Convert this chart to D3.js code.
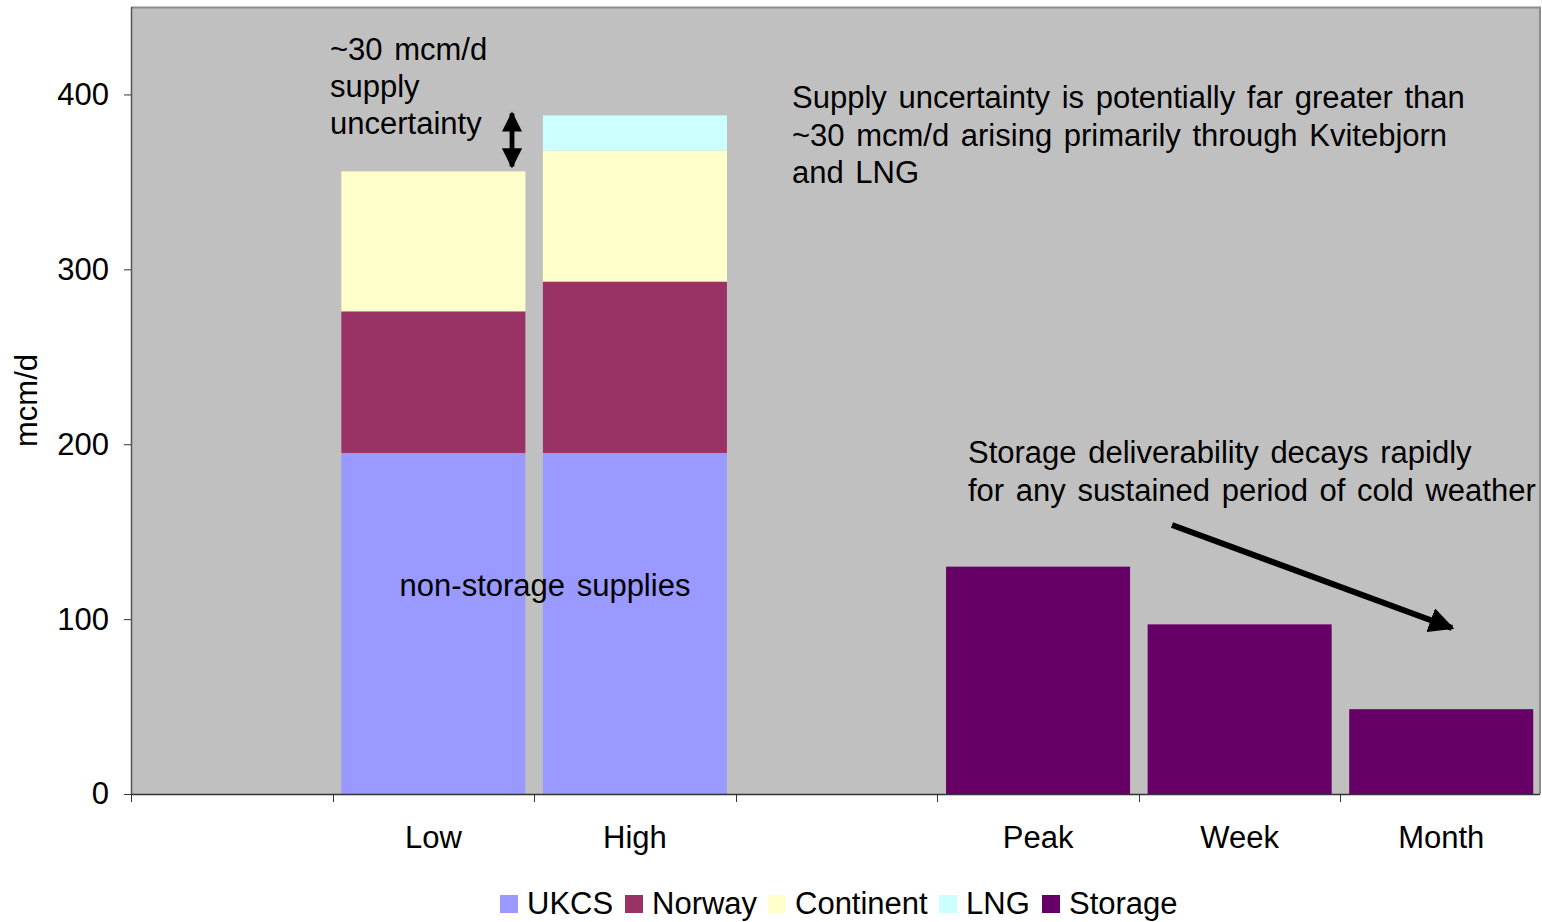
<!DOCTYPE html>
<html>
<head>
<meta charset="utf-8">
<script src="https://cdn.jsdelivr.net/npm/d3@7"></script>
<style>
  html, body { margin: 0; padding: 0; background: #ffffff; }
  svg { display: block; font-family: "Liberation Sans", Arial, sans-serif; }
</style>
</head>
<body>
<svg id="chart" width="1542" height="922"></svg>
<script>
// Category slots along the x axis (blank slots act as spacers)
const categories = ["", "Low", "High", "", "Peak", "Week", "Month"];

// Series values per slot (mcm/d)
const ukcs      = [0, 195, 195, 0, 0, 0, 0];
const norway    = [0, 81, 98, 0, 0, 0, 0];
const continent = [0, 80, 75, 0, 0, 0, 0];
const lng       = [0, 0, 20, 0, 0, 0, 0];
const storage   = [0, 0, 0, 0, 130, 97, 48.5];

const seriesNames = ["UKCS", "Norway", "Continent", "LNG", "Storage"];
const seriesValues = [ukcs, norway, continent, lng, storage];
const seriesColors = ["#9999FF", "#993366", "#FFFFCC", "#CCFFFF", "#660066"];

const yTicks = [0, 100, 200, 300, 400];

const svg = d3.select("#chart");
const plot = { left: 131, right: 1540, top: 7, bottom: 794 };
const FS = 31;       // text size used throughout
const WS = 3;        // extra word spacing for annotations

const x = d3.scaleBand()
  .domain(d3.range(categories.length))
  .range([plot.left, 1542])
  .paddingInner(0.087)
  .paddingOuter(0.0435);

const y = d3.scaleLinear().domain([0, 450]).range([plot.bottom, plot.top]);

// plot background
svg.append("rect")
  .attr("x", plot.left).attr("y", plot.top)
  .attr("width", plot.right - plot.left).attr("height", plot.bottom - plot.top)
  .attr("fill", "#C0C0C0");

// top / right frame
svg.append("path")
  .attr("d", `M${plot.left},${plot.top + 0.5}H${plot.right}V${plot.bottom}`)
  .attr("fill", "none").attr("stroke", "#8c8c8c").attr("stroke-width", 2);

// stacked bars
const rows = categories.map((c, i) => {
  const r = { i };
  seriesNames.forEach((n, k) => r[n] = seriesValues[k][i]);
  return r;
});
const stacked = d3.stack().keys(seriesNames)(rows);

svg.append("g").selectAll("g")
  .data(stacked)
  .join("g")
  .attr("fill", (d, k) => seriesColors[k])
  .selectAll("rect")
  .data(d => d.filter(p => p[1] - p[0] > 0))
  .join("rect")
  .attr("x", d => x(d.data.i))
  .attr("width", x.bandwidth())
  .attr("y", d => y(d[1]))
  .attr("height", d => y(d[0]) - y(d[1]));

// y axis
const yAxis = svg.append("g")
  .attr("transform", `translate(${plot.left},0)`)
  .call(d3.axisLeft(y).tickValues(yTicks).tickSize(7).tickPadding(15));
yAxis.select(".domain").attr("stroke", "#555").attr("stroke-width", 1.5)
  .attr("d", `M0.5,${plot.top}V${plot.bottom}`);
yAxis.selectAll(".tick line").attr("stroke", "#333");
yAxis.selectAll(".tick text")
  .attr("font-size", FS).attr("fill", "#000")
  .attr("font-family", "Liberation Sans, Arial, sans-serif");

// x axis: line + ticks at category boundaries
const xg = svg.append("g");
xg.append("line")
  .attr("x1", plot.left).attr("x2", plot.right)
  .attr("y1", plot.bottom + 0.5).attr("y2", plot.bottom + 0.5)
  .attr("stroke", "#333").attr("stroke-width", 1.5);
xg.selectAll("line.tk")
  .data(d3.range(categories.length + 1))
  .join("line").attr("class", "tk")
  .attr("x1", i => Math.round(plot.left + i * x.step()) + 0.5)
  .attr("x2", i => Math.round(plot.left + i * x.step()) + 0.5)
  .attr("y1", plot.bottom).attr("y2", plot.bottom + 8)
  .attr("stroke", "#333");
xg.selectAll("text")
  .data(categories.map((c, i) => ({ c, i })).filter(d => d.c))
  .join("text")
  .attr("x", d => x(d.i) + x.bandwidth() / 2)
  .attr("y", 848)
  .attr("text-anchor", "middle")
  .attr("font-size", FS)
  .text(d => d.c);

// y axis title
svg.append("text")
  .attr("transform", `translate(37,${(plot.top + plot.bottom) / 2}) rotate(-90)`)
  .attr("text-anchor", "middle")
  .attr("font-size", FS)
  .text("mcm/d");

// annotations
function lines(xp, y0, arr, lh) {
  const t = svg.append("text").attr("x", xp).attr("y", y0)
    .attr("font-size", FS).attr("word-spacing", WS);
  arr.forEach((s, k) => t.append("tspan").attr("x", xp).attr("y", y0 + k * lh).text(s));
}
lines(330, 60, ["~30 mcm/d", "supply", "uncertainty"], 37);
lines(792, 108, ["Supply uncertainty is potentially far greater than",
                 "~30 mcm/d arising primarily through Kvitebjorn",
                 "and LNG"], 37.5);
lines(968, 463, ["Storage deliverability decays rapidly",
                 "for any sustained period of cold weather"], 37.5);
svg.append("text").attr("x", 545).attr("y", 596)
  .attr("text-anchor", "middle").attr("font-size", FS).attr("word-spacing", WS)
  .text("non-storage supplies");

// arrowheads
const defs = svg.append("defs");
defs.append("marker")
  .attr("id", "head").attr("viewBox", "0 0 10 10")
  .attr("refX", 9).attr("refY", 5)
  .attr("markerWidth", 4.2).attr("markerHeight", 4.2)
  .attr("markerUnits", "strokeWidth")
  .attr("orient", "auto-start-reverse")
  .append("path").attr("d", "M0,0L10,5L0,10z").attr("fill", "#000");

// double-headed arrow: gap between Low total and High total
const lowTotal = ukcs[1] + norway[1] + continent[1] + lng[1];
const highTotal = ukcs[2] + norway[2] + continent[2] + lng[2];
svg.append("line")
  .attr("x1", 512).attr("x2", 512)
  .attr("y1", y(highTotal) - 2).attr("y2", y(lowTotal) - 5)
  .attr("stroke", "#000").attr("stroke-width", 4.8)
  .attr("marker-start", "url(#head)").attr("marker-end", "url(#head)");

// decay arrow
svg.append("line")
  .attr("x1", 1172).attr("y1", 525)
  .attr("x2", 1452).attr("y2", 628)
  .attr("stroke", "#000").attr("stroke-width", 6)
  .attr("marker-end", "url(#head)");

// legend
const legendX = [500, 625, 768, 939, 1042];
const lg = svg.append("g");
seriesNames.forEach((n, k) => {
  lg.append("rect").attr("x", legendX[k]).attr("y", 895)
    .attr("width", 18).attr("height", 18).attr("fill", seriesColors[k]);
  lg.append("text").attr("x", legendX[k] + 27).attr("y", 914)
    .attr("font-size", FS).text(n);
});
</script>
</body>
</html>
